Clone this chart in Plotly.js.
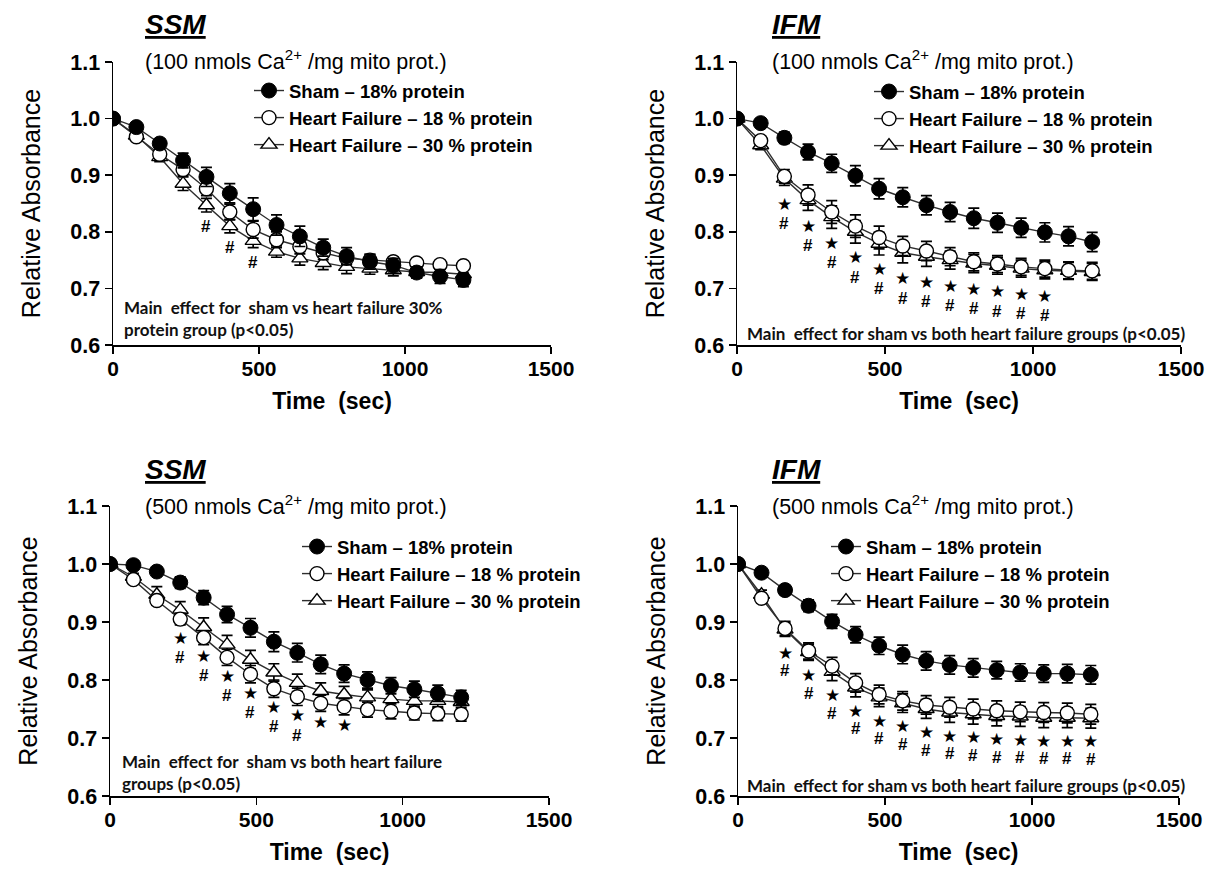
<!DOCTYPE html>
<html><head><meta charset="utf-8">
<script src="https://cdn.plot.ly/plotly-3.0.1.min.js"></script>
<style>body{margin:0;background:#fff}#chart{width:1212px;height:869px}</style>
</head><body><div id="chart"></div>
<script>
// ---------------- DATA ----------------
const time = [0,80,160,240,320,400,480,560,640,720,800,880,960,1040,1120,1200];
const seriesNames = ["Sham – 18% protein","Heart Failure – 18 % protein","Heart Failure – 30 % protein"];
const panelTitles = ["SSM","IFM","SSM","IFM"];
const panelSubtitles = ["(100 nmols Ca<sup>2+</sup> /mg mito prot.)","(100 nmols Ca<sup>2+</sup> /mg mito prot.)",
                        "(500 nmols Ca<sup>2+</sup> /mg mito prot.)","(500 nmols Ca<sup>2+</sup> /mg mito prot.)"];
const panelNotes = ["Main  effect for  sham vs heart failure 30%<br>protein group (p<0.05)",
                    "Main  effect for sham vs both heart failure groups (p<0.05)",
                    "Main  effect for  sham vs both heart failure<br>groups (p<0.05)",
                    "Main  effect for sham vs both heart failure groups (p<0.05)"];
const xTickVals = [0,500,1000,1500];
const yTickVals = [0.6,0.7,0.8,0.9,1.0,1.1];
const xTitle = "Time  (sec)";
const yTitle = "Relative Absorbance";

// SSM, 100 nmol
const ssm100Sham   = [1.000,0.985,0.956,0.926,0.897,0.868,0.840,0.812,0.792,0.772,0.757,0.747,0.741,0.728,0.721,0.715];
const ssm100ShamE  = [0,0.005,0.008,0.013,0.017,0.017,0.020,0.018,0.018,0.015,0.015,0.013,0.012,0.010,0.012,0.012];
const ssm100Hf18   = [1.000,0.968,0.937,0.910,0.876,0.835,0.804,0.786,0.774,0.763,0.753,0.750,0.747,0.745,0.742,0.740];
const ssm100Hf18E  = [0,0.005,0.008,0.010,0.012,0.014,0.015,0.014,0.013,0.012,0.010,0.010,0.008,0.007,0.007,0.007];
const ssm100Hf30   = [1.000,0.970,0.932,0.885,0.847,0.810,0.784,0.765,0.753,0.745,0.738,0.735,0.732,0.729,0.728,0.725];
const ssm100Hf30E  = [0,0.005,0.008,0.012,0.012,0.012,0.012,0.010,0.012,0.012,0.012,0.010,0.010,0.010,0.010,0.010];
const ssm100Star   = [];
const ssm100Hash   = [4,5,6];

// IFM, 100 nmol
const ifm100Sham   = [1.000,0.992,0.966,0.941,0.921,0.899,0.876,0.861,0.847,0.835,0.824,0.816,0.807,0.799,0.792,0.782];
const ifm100ShamE  = [0,0.006,0.010,0.014,0.016,0.018,0.018,0.017,0.017,0.017,0.018,0.017,0.017,0.017,0.017,0.017];
const ifm100Hf18   = [1.000,0.961,0.898,0.865,0.835,0.810,0.790,0.775,0.766,0.756,0.747,0.743,0.738,0.735,0.732,0.731];
const ifm100Hf18E  = [0,0.008,0.012,0.018,0.020,0.020,0.020,0.017,0.017,0.016,0.016,0.015,0.015,0.015,0.015,0.015];
const ifm100Hf30   = [1.000,0.953,0.894,0.856,0.826,0.800,0.779,0.763,0.756,0.750,0.744,0.740,0.735,0.732,0.731,0.729];
const ifm100Hf30E  = [0,0.008,0.012,0.018,0.020,0.020,0.020,0.018,0.017,0.016,0.016,0.015,0.015,0.015,0.015,0.015];
const ifm100Star   = [2,3,4,5,6,7,8,9,10,11,12,13];
const ifm100Hash   = [2,3,4,5,6,7,8,9,10,11,12,13];

// SSM, 500 nmol
const ssm500Sham   = [1.000,0.998,0.987,0.968,0.942,0.913,0.890,0.866,0.847,0.827,0.811,0.800,0.790,0.784,0.777,0.770];
const ssm500ShamE  = [0,0.005,0.006,0.010,0.012,0.014,0.016,0.017,0.016,0.016,0.015,0.014,0.014,0.014,0.014,0.012];
const ssm500Hf18   = [1.000,0.973,0.937,0.905,0.873,0.839,0.810,0.785,0.771,0.760,0.754,0.749,0.746,0.743,0.742,0.741];
const ssm500Hf18E  = [0,0.006,0.008,0.010,0.012,0.014,0.015,0.015,0.015,0.014,0.014,0.013,0.013,0.012,0.012,0.012];
const ssm500Hf30   = [1.000,0.978,0.947,0.921,0.891,0.861,0.835,0.813,0.795,0.781,0.775,0.770,0.767,0.764,0.764,0.762];
const ssm500Hf30E  = [0,0.006,0.014,0.014,0.016,0.016,0.016,0.015,0.015,0.014,0.014,0.013,0.013,0.012,0.012,0.012];
const ssm500Star   = [3,4,5,6,7,8,9,10];
const ssm500Hash   = [3,4,5,6,7,8];

// IFM, 500 nmol
const ifm500Sham   = [1.000,0.985,0.955,0.928,0.901,0.878,0.859,0.844,0.833,0.826,0.821,0.817,0.813,0.811,0.811,0.809];
const ifm500ShamE  = [0,0.005,0.008,0.010,0.012,0.014,0.015,0.016,0.016,0.016,0.016,0.015,0.015,0.015,0.016,0.016];
const ifm500Hf18   = [1.000,0.941,0.889,0.850,0.824,0.795,0.775,0.764,0.757,0.753,0.750,0.747,0.745,0.744,0.743,0.741];
const ifm500Hf18E  = [0,0.008,0.012,0.014,0.015,0.016,0.016,0.016,0.016,0.017,0.017,0.017,0.017,0.017,0.017,0.017];
const ifm500Hf30   = [1.000,0.947,0.887,0.848,0.814,0.787,0.770,0.760,0.750,0.744,0.741,0.738,0.737,0.735,0.735,0.734];
const ifm500Hf30E  = [0,0.008,0.012,0.014,0.015,0.016,0.016,0.016,0.016,0.017,0.017,0.017,0.017,0.017,0.017,0.017];
const ifm500Star   = [2,3,4,5,6,7,8,9,10,11,12,13,14,15];
const ifm500Hash   = [2,3,4,5,6,7,8,9,10,11,12,13,14,15];

// ---------------- LAYOUT / STYLE ----------------
const W = 1212, H = 869;
const FONT = "Liberation Sans, Arial, sans-serif";
const NOTEFONT = "Lato, Carlito, Calibri, sans-serif";

const panels = [
  {sham:ssm100Sham, shamE:ssm100ShamE, hf18:ssm100Hf18, hf18E:ssm100Hf18E, hf30:ssm100Hf30, hf30E:ssm100Hf30E,
   star:ssm100Star, hash:ssm100Hash, x0:113, x1:551, yTop:62, yBot:345, legX:249, legY:72, titleX:143, titleY:25, subY:60,
   noteX:122, noteY:319, so:0.038, ho:0.038},
  {sham:ifm100Sham, shamE:ifm100ShamE, hf18:ifm100Hf18, hf18E:ifm100Hf18E, hf30:ifm100Hf30, hf30E:ifm100Hf30E,
   star:ifm100Star, hash:ifm100Hash, x0:737, x1:1181, yTop:62, yBot:345, legX:869, legY:73, titleX:770, titleY:25, subY:60,
   noteX:745, noteY:333, so:0.045, ho:0.08},
  {sham:ssm500Sham, shamE:ssm500ShamE, hf18:ssm500Hf18, hf18E:ssm500Hf18E, hf30:ssm500Hf30, hf30E:ssm500Hf30E,
   star:ssm500Star, hash:ssm500Hash, x0:110, x1:549, yTop:506, yBot:796, legX:297, legY:528, titleX:143, titleY:470, subY:505,
   noteX:120, noteY:772, so:0.032, ho:0.066},
  {sham:ifm500Sham, shamE:ifm500ShamE, hf18:ifm500Hf18, hf18E:ifm500Hf18E, hf30:ifm500Hf30, hf30E:ifm500Hf30E,
   star:ifm500Star, hash:ifm500Hash, x0:738, x1:1179, yTop:506, yBot:796, legX:826, legY:528, titleX:770, titleY:470, subY:505,
   noteX:745, noteY:785, so:0.04, ho:0.071}
];

const traces = [];
const layout = {
  width: W, height: H, margin:{l:0,r:0,t:0,b:0},
  paper_bgcolor:"#fff", plot_bgcolor:"rgba(0,0,0,0)",
  font:{family:FONT, color:"#000"},
  showlegend:true, annotations:[]
};

panels.forEach((p, i) => {
  const n = i + 1;
  const xa = n === 1 ? "x" : "x" + n, ya = n === 1 ? "y" : "y" + n;
  const xk = n === 1 ? "xaxis" : "xaxis" + n, yk = n === 1 ? "yaxis" : "yaxis" + n;
  const lk = n === 1 ? "legend" : "legend" + n;
  const common = {x: time, xaxis: xa, yaxis: ya, mode: "lines+markers", legend: lk, hoverinfo: "x+y",
                  line:{color:"#2e2e2e", width:1.4}};
  const eb = arr => ({type:"data", array:arr, visible:true, color:"#000", thickness:1.7, width:5.5});
  traces.push(Object.assign({}, common, {name: seriesNames[2], y: p.hf30, error_y: eb(p.hf30E),
     marker:{symbol:"triangle-up", size:14, color:"#fff", line:{color:"#000", width:1.4}}}));
  traces.push(Object.assign({}, common, {name: seriesNames[1], y: p.hf18, error_y: eb(p.hf18E),
     marker:{symbol:"circle", size:14, color:"#fff", line:{color:"#000", width:1.4}}}));
  traces.push(Object.assign({}, common, {name: seriesNames[0], y: p.sham, error_y: eb(p.shamE),
     marker:{symbol:"circle", size:15, color:"#000", line:{color:"#000", width:1}}}));

  layout[xk] = {domain:[p.x0/W, p.x1/W], range:[0,1500], anchor: ya, tickvals: xTickVals,
    showline:true, linecolor:"#000", linewidth:1.5, ticks:"outside", ticklen:7, tickwidth:1.5, tickcolor:"#000",
    ticklabelstandoff:-3,
    showgrid:false, zeroline:false, tickfont:{family:FONT, size:21, weight:"bold", color:"#000"},
    title:{text: xTitle, font:{family:FONT, size:23, weight:"bold", color:"#000"}, standoff:14}};
  layout[yk] = {domain:[1 - p.yBot/H, 1 - p.yTop/H], range:[0.6,1.1], anchor: xa, tickvals: yTickVals,
    tickformat:".1f",
    showline:true, linecolor:"#000", linewidth:1.5, ticks:"outside", ticklen:7, tickwidth:1.5, tickcolor:"#000",
    showgrid:false, zeroline:false, tickfont:{family:FONT, size:21.5, weight:"bold", color:"#000"},
    title:{text: yTitle, font:{family:FONT, size:25, color:"#000"}, standoff:22}};
  layout[lk] = {x: p.legX/W, y: 1 - p.legY/H, xanchor:"left", yanchor:"top", xref:"paper", yref:"paper",
    bgcolor:"rgba(0,0,0,0)", traceorder:"reversed", itemwidth:30,
    font:{family:FONT, size:18.5, weight:"bold", color:"#000"}};

  // titles
  layout.annotations.push({xref:"paper", yref:"paper", x:p.titleX/W, y:1 - p.titleY/H, xanchor:"left", yanchor:"middle",
    showarrow:false, text:"<b><i><u>" + panelTitles[i] + "</u></i></b>", font:{family:FONT, size:28, color:"#000"}});
  layout.annotations.push({xref:"paper", yref:"paper", x:p.titleX/W, y:1 - p.subY/H, xanchor:"left", yanchor:"middle",
    showarrow:false, text:panelSubtitles[i], font:{family:FONT, size:21.5, color:"#000"}});
  // note
  layout.annotations.push({xref:"paper", yref:"paper", x:p.noteX/W, y:1 - p.noteY/H, xanchor:"left", yanchor:"middle",
    align:"left", showarrow:false, text:"<b>" + panelNotes[i] + "</b>", font:{family:NOTEFONT, size:17, color:"#111"}});
  // significance markers
  p.star.forEach(k => {
    const base = Math.min(p.hf18[k], p.hf30[k]);
    layout.annotations.push({xref:xa, yref:ya, x:time[k], y:base - p.so, showarrow:false, text:"★",
      font:{family:"DejaVu Sans", size:17, color:"#000"}, yanchor:"middle"});
  });
  p.hash.forEach(k => {
    const base = Math.min(p.hf18[k], p.hf30[k]);
    const off = p.star.length ? p.ho : p.so;
    layout.annotations.push({xref:xa, yref:ya, x:time[k], y:base - off, showarrow:false, text:"<b>#</b>",
      font:{family:FONT, size:17, color:"#000"}, yanchor:"middle"});
  });
});

Plotly.newPlot("chart", traces, layout, {displayModeBar:false, staticPlot:true});
</script>
</body></html>
